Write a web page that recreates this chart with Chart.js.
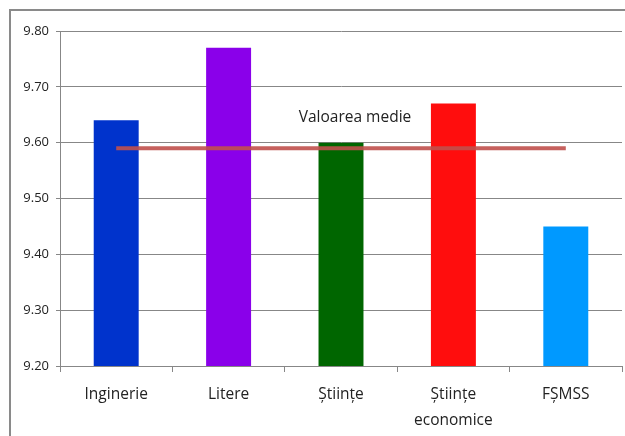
<!DOCTYPE html>
<html>
<head>
<meta charset="utf-8">
<script src="https://cdn.jsdelivr.net/npm/chart.js@4/dist/chart.umd.min.js"></script>
<style>
  html, body { margin: 0; padding: 0; background: #fff; }
  #frame { position: absolute; left: 9px; top: 9px; width: 700px; height: 500px; border: 2px solid #8a8a8a; }
  #wrap { position: absolute; left: 0; top: 0; width: 625px; height: 436px; }
</style>
</head>
<body>
<div id="frame"></div>
<div id="wrap"><canvas id="chart"></canvas></div>
<script>
const categories = ["Inginerie", "Litere", "Științe", ["Științe", "economice"], "FȘMSS"]
const scores = [9.64, 9.77, 9.60, 9.67, 9.45]
const barColors = ["#0033cc", "#8a00ea", "#006600", "#ff0d0d", "#0099ff"]
const meanValue = 9.59
const meanLabel = "Valoarea medie"
const yTicks = [9.2, 9.3, 9.4, 9.5, 9.6, 9.7, 9.8]

const font = "'Open Sans', sans-serif"

// writes the "Valoarea medie" caption above the mean line
const meanCaption = {
  id: "meanCaption",
  afterDatasetsDraw(chart) {
    const { ctx, scales } = chart
    const x = scales.x.getPixelForValue(2) + 14
    const y = scales.y.getPixelForValue(meanValue) - 31
    ctx.save()
    ctx.font = "15.5px " + font
    ctx.fillStyle = "#222"
    ctx.textAlign = "center"
    ctx.textBaseline = "middle"
    ctx.fillText(meanLabel, x, y)
    ctx.restore()
  }
}

new Chart(document.getElementById("chart"), {
  data: {
    labels: categories,
    datasets: [
      {
        type: "line",
        data: categories.map(() => meanValue),
        borderColor: "rgba(192, 80, 77, 0.9)",
        borderWidth: 4,
        pointRadius: 0,
        order: 0
      },
      {
        type: "bar",
        data: scores,
        backgroundColor: barColors,
        barPercentage: 0.4,
        categoryPercentage: 1,
        order: 1
      }
    ]
  },
  options: {
    responsive: true,
    maintainAspectRatio: false,
    animation: false,
    layout: { padding: { top: 31, right: 3, left: 0, bottom: 0 } },
    plugins: { legend: { display: false }, tooltip: { enabled: false } },
    scales: {
      x: {
        grid: { drawOnChartArea: false, drawTicks: true, tickLength: 6, color: "#878787" },
        border: { color: "#878787" },
        ticks: { color: "#222", padding: 9, font: { family: font, size: 15.5, lineHeight: 1.7 } },
        afterFit(axis) { axis.height = 70 }
      },
      y: {
        min: yTicks[0],
        max: yTicks[yTicks.length - 1],
        afterBuildTicks(axis) { axis.ticks = yTicks.map(v => ({ value: v })) },
        grid: { color: "#878787", tickLength: 4 },
        border: { color: "#878787" },
        ticks: {
          color: "#222",
          padding: 7,
          font: { family: font, size: 13 },
          callback: v => v.toFixed(2)
        },
        afterFit(axis) { axis.width = 60 }
      }
    }
  },
  plugins: [meanCaption]
})
</script>
</body>
</html>
